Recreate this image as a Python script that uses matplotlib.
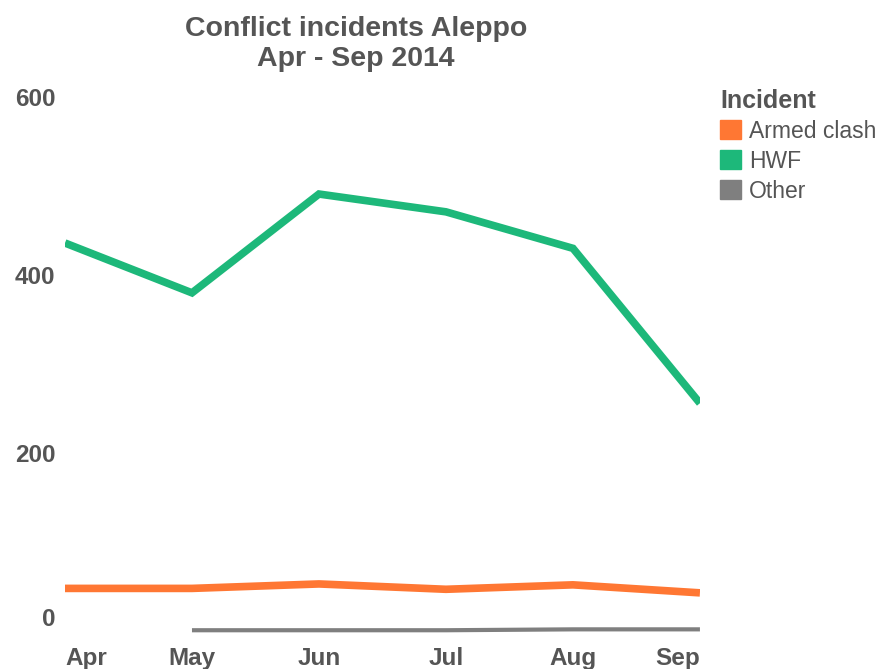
import numpy as np
import matplotlib.pyplot as plt
from matplotlib.patches import Patch

plt.rcParams['font.family'] = ['Liberation Sans', 'DejaVu Sans']

months = ['Apr', 'May', 'Jun', 'Jul', 'Aug', 'Sep']
armed_clash = [48, 48, 53, 47, 52, 43]
hwf = [436, 380, 491, 471, 430, 256]
other = [np.nan, 1, 1, 1, 2, 2]

c_armed = '#FF7733'
c_hwf = '#1DB87A'
c_other = '#7F7F7F'
txt = '#555555'

fig = plt.figure(figsize=(8.77, 6.69), dpi=100)
ax = fig.add_axes([0.0741, 0.0433, 0.7240, 0.8117])

x = np.arange(len(months))
ax.plot(x, hwf, color=c_hwf, lw=5.5, solid_capstyle='butt', solid_joinstyle='miter')
ax.plot(x, armed_clash, color=c_armed, lw=5.5, solid_capstyle='butt', solid_joinstyle='miter')
ax.plot(x, other, color=c_other, lw=3, solid_capstyle='butt')

ax.set_xlim(0, len(months) - 1)
ax.set_ylim(-10, 600)
ax.set_yticks([0, 200, 400, 600])
ax.set_xticks(x)
ax.set_xticklabels(months)

for s in ax.spines.values():
    s.set_visible(False)
ax.tick_params(length=0, labelsize=17.5, labelcolor=txt)
ax.tick_params(axis='x', pad=5)
ax.tick_params(axis='y', pad=7)
for lab in ax.get_xticklabels() + ax.get_yticklabels():
    lab.set_fontweight('bold')

# keep end labels inside the plot width
xl = ax.get_xticklabels()
xl[0].set_ha('left')
xl[-1].set_ha('right')
ax.get_yticklabels()[0].set_va('bottom')

fig.text(0.406, 0.976, 'Conflict incidents Aleppo\nApr - Sep 2014', ha='center', va='top',
         fontsize=20.5, fontweight='bold', color=txt, linespacing=1.22)

handles = [Patch(color=c_armed), Patch(color=c_hwf), Patch(color=c_other)]
leg = fig.legend(handles, ['Armed clash', 'HWF', 'Other'], title='Incident',
                 loc='upper left', bbox_to_anchor=(0.821, 0.867), frameon=False,
                 fontsize=16.5, handlelength=0.9, handleheight=0.9, handletextpad=0.35,
                 labelspacing=0.3, borderpad=0, borderaxespad=0, alignment='left',
                 title_fontproperties={'weight': 'bold', 'size': 18})
leg.get_title().set_color(txt)
for t in leg.get_texts():
    t.set_color(txt)

fig.savefig('out.png', dpi=100)
